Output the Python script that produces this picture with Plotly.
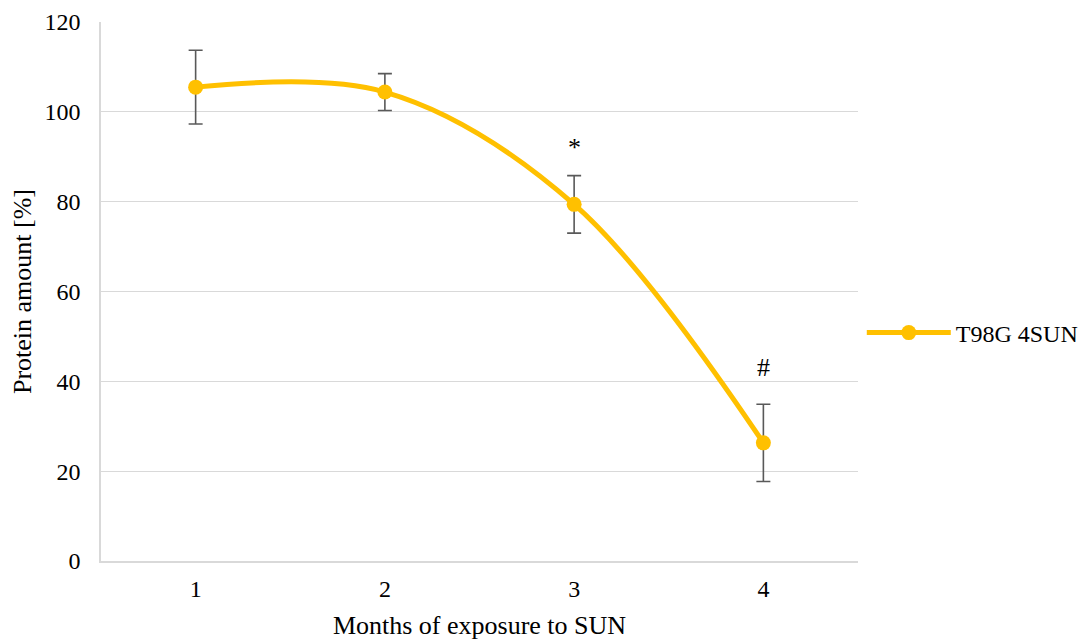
import plotly.graph_objects as go

months = ["1", "2", "3", "4"]
protein = [105.5, 104.4, 79.4, 26.3]
errors = [8.2, 4.1, 6.4, 8.6]
marks = ["", "", "*", "#"]
series_name = "T98G 4SUN"

SERIF = "Liberation Serif"

fig = go.Figure()
fig.add_trace(go.Scatter(
    x=months, y=protein, name=series_name,
    mode="lines+markers",
    line=dict(color="#FFC000", width=5, shape="spline", smoothing=1.0),
    marker=dict(color="#FFC000", size=15),
    error_y=dict(type="data", array=errors, visible=True,
                 color="#595959", thickness=1.6, width=7),
))

for i, (v, e, t) in enumerate(zip(protein, errors, marks)):
    if t:
        fig.add_annotation(x=i, y=v + e, text=t, showarrow=False,
                           yanchor="middle", yshift=28 if t == "*" else 37,
                           font=dict(family=SERIF, size=26, color="#000"))

fig.update_layout(
    width=1088, height=641,
    margin=dict(l=93, r=236, t=14, b=88),
    plot_bgcolor="white", paper_bgcolor="white",
    font=dict(family=SERIF, size=24, color="#000"),
    showlegend=True,
    legend=dict(x=1.005, y=0.423, xanchor="left", yanchor="middle",
                font=dict(family=SERIF, size=24, color="#000"),
                bgcolor="rgba(0,0,0,0)", itemwidth=84),
    xaxis=dict(type="category", range=[-0.5, 3.5], showgrid=False,
               showline=True, linecolor="#d9d9d9", linewidth=1.5,
               ticks="", tickfont=dict(size=24), automargin=False,
               ticklabelstandoff=5,
               title=dict(text="Months of exposure to SUN", font=dict(size=26), standoff=15)),
    yaxis=dict(range=[0, 120], dtick=20, showgrid=True, gridcolor="#d9d9d9",
               gridwidth=1.3, showline=True, linecolor="#d9d9d9", linewidth=1.5,
               zeroline=False, ticks="", tickfont=dict(size=24), automargin=False,
               ticklabelstandoff=14,
               title=dict(text="Protein amount [%]", font=dict(size=26), standoff=8)),
)

fig.write_html("out.html")
